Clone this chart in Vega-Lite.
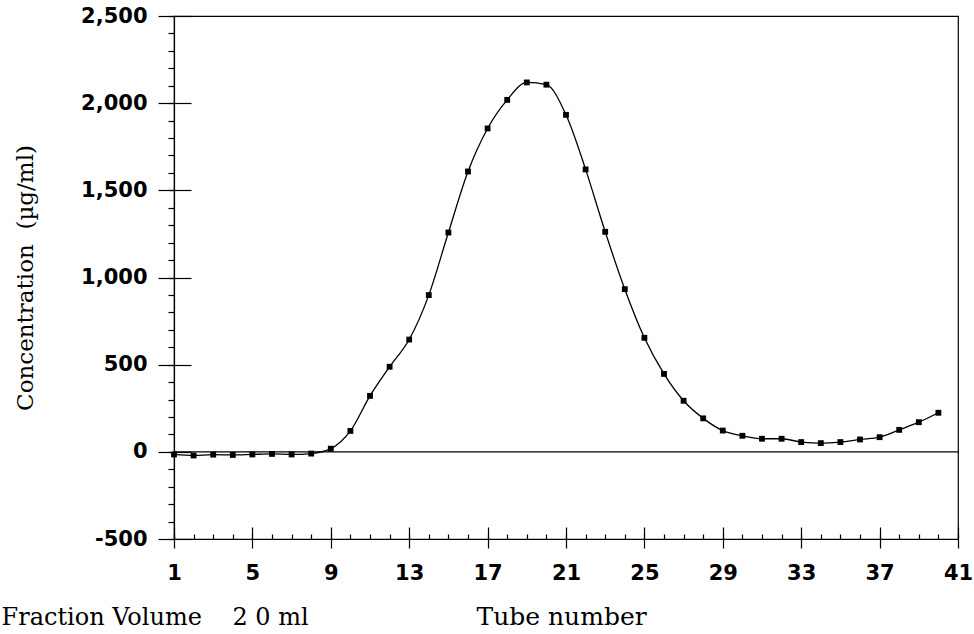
{
  "$schema": "https://vega.github.io/schema/vega-lite/v6.json",
  "width": 784,
  "height": 523,
  "autosize": {"type": "none"},
  "padding": {"left": 174, "top": 16, "right": 16, "bottom": 95},
  "background": "white",
  "config": {
    "view": {"stroke": "black", "strokeWidth": 1.2},
    "axis": {
      "grid": false,
      "domainColor": "black",
      "domainWidth": 1.2,
      "tickColor": "black",
      "tickWidth": 1.2,
      "labelColor": "black",
      "titleColor": "black",
      "labelFont": "DejaVu Sans",
      "labelFontWeight": "bold",
      "labelFontSize": 20,
      "titleFont": "DejaVu Serif",
      "titleFontWeight": "normal",
      "titleFontSize": 24
    }
  },
  "data": {
    "values": [
      {"tube": 1, "conc": -15}, {"tube": 2, "conc": -21}, {"tube": 3, "conc": -16}, {"tube": 4, "conc": -18},
      {"tube": 5, "conc": -15}, {"tube": 6, "conc": -12}, {"tube": 7, "conc": -15}, {"tube": 8, "conc": -10},
      {"tube": 9, "conc": 18}, {"tube": 10, "conc": 120}, {"tube": 11, "conc": 321}, {"tube": 12, "conc": 488},
      {"tube": 13, "conc": 644}, {"tube": 14, "conc": 899}, {"tube": 15, "conc": 1258}, {"tube": 16, "conc": 1608},
      {"tube": 17, "conc": 1855}, {"tube": 18, "conc": 2019}, {"tube": 19, "conc": 2119}, {"tube": 20, "conc": 2106},
      {"tube": 21, "conc": 1933}, {"tube": 22, "conc": 1620}, {"tube": 23, "conc": 1262}, {"tube": 24, "conc": 933},
      {"tube": 25, "conc": 654}, {"tube": 26, "conc": 447}, {"tube": 27, "conc": 293}, {"tube": 28, "conc": 192},
      {"tube": 29, "conc": 122}, {"tube": 30, "conc": 92}, {"tube": 31, "conc": 75}, {"tube": 32, "conc": 75},
      {"tube": 33, "conc": 56}, {"tube": 34, "conc": 50}, {"tube": 35, "conc": 56}, {"tube": 36, "conc": 71},
      {"tube": 37, "conc": 84}, {"tube": 38, "conc": 126}, {"tube": 39, "conc": 170}, {"tube": 40, "conc": 224}
    ]
  },
  "layer": [
    {
      "data": {"values": [{"baseline": 0}]},
      "mark": {"type": "rule", "color": "black", "strokeWidth": 1.2},
      "encoding": {
        "y": {"field": "baseline", "type": "quantitative", "scale": {"domain": [-500, 2500], "nice": false, "zero": false}, "axis": null}
      }
    },
    {
      "mark": {"type": "line", "interpolate": "monotone", "color": "black", "strokeWidth": 1.3},
      "encoding": {
        "x": {
          "field": "tube", "type": "quantitative",
          "scale": {"domain": [1, 41], "nice": false, "zero": false},
          "axis": {
            "orient": "bottom",
            "values": [1, 5, 9, 13, 17, 21, 25, 29, 33, 37, 41],
            "format": "d",
            "tickSize": 9,
            "labelPadding": 14,
            "labelFontSize": 21,
            "labelFlush": false,
            "labelOverlap": false,
            "title": "Tube number",
            "titleX": 302,
            "titleY": 85,
            "titleAlign": "left",
            "titleBaseline": "alphabetic",
            "titleFontSize": 25,
            "titleAnchor": null
          }
        },
        "y": {
          "field": "conc", "type": "quantitative",
          "scale": {"domain": [-500, 2500], "nice": false, "zero": false},
          "axis": {
            "orient": "left",
            "values": [-500, 0, 500, 1000, 1500, 2000, 2500],
            "format": ",d",
            "labelExpr": "replace(datum.label, '\u2212', '-')",
            "tickSize": 16,
            "labelPadding": 11,
            "labelFontSize": 21,
            "labelFlush": false,
            "labelOverlap": false,
            "title": "Concentration\u00a0\u00a0(\u00b5g/ml)",
            "titleX": -149,
            "titleY": 261.5,
            "titleAngle": -90,
            "titleAlign": "center",
            "titleBaseline": "middle",
            "titleFontSize": 23
          }
        }
      }
    },
    {
      "mark": {"type": "point", "filled": true, "shape": "square", "size": 34, "color": "black", "opacity": 1},
      "encoding": {
        "x": {
          "field": "tube", "type": "quantitative",
          "scale": {"domain": [1, 41], "nice": false, "zero": false},
          "axis": {
            "orient": "bottom",
            "values": [1, 5, 9, 13, 17, 21, 25, 29, 33, 37, 41],
            "tickSize": -12,
            "labels": false,
            "domain": false,
            "title": null
          }
        },
        "y": {
          "field": "conc", "type": "quantitative",
          "scale": {"domain": [-500, 2500], "nice": false, "zero": false},
          "axis": {
            "orient": "left",
            "values": [-500, 0, 500, 1000, 1500, 2000, 2500],
            "tickSize": -17,
            "labels": false,
            "domain": false,
            "title": null
          }
        }
      }
    },
    {
      "mark": {"type": "point", "opacity": 0},
      "encoding": {
        "x": {
          "field": "tube", "type": "quantitative",
          "scale": {"domain": [1, 41], "nice": false, "zero": false},
          "axis": {
            "orient": "bottom",
            "values": [1, 2, 3, 4, 5, 6, 7, 8, 9, 10, 11, 12, 13, 14, 15, 16, 17, 18, 19, 20, 21, 22, 23, 24, 25, 26, 27, 28, 29, 30, 31, 32, 33, 34, 35, 36, 37, 38, 39, 40, 41],
            "tickSize": -5,
            "labels": false,
            "domain": false,
            "title": "Fraction Volume\u00a0\u00a0\u00a0\u00a02 0 ml",
            "titleX": -173,
            "titleY": 85,
            "titleAlign": "left",
            "titleBaseline": "alphabetic",
            "titleFontSize": 24,
            "titleAnchor": null
          }
        },
        "y": {
          "field": "conc", "type": "quantitative",
          "scale": {"domain": [-500, 2500], "nice": false, "zero": false},
          "axis": {
            "orient": "left",
            "values": [-500, -400, -300, -200, -100, 0, 100, 200, 300, 400, 500, 600, 700, 800, 900, 1000, 1100, 1200, 1300, 1400, 1500, 1600, 1700, 1800, 1900, 2000, 2100, 2200, 2300, 2400, 2500],
            "tickSize": 6,
            "labels": false,
            "domain": false,
            "title": null
          }
        }
      }
    }
  ],
  "resolve": {"axis": {"x": "independent", "y": "independent"}}
}
